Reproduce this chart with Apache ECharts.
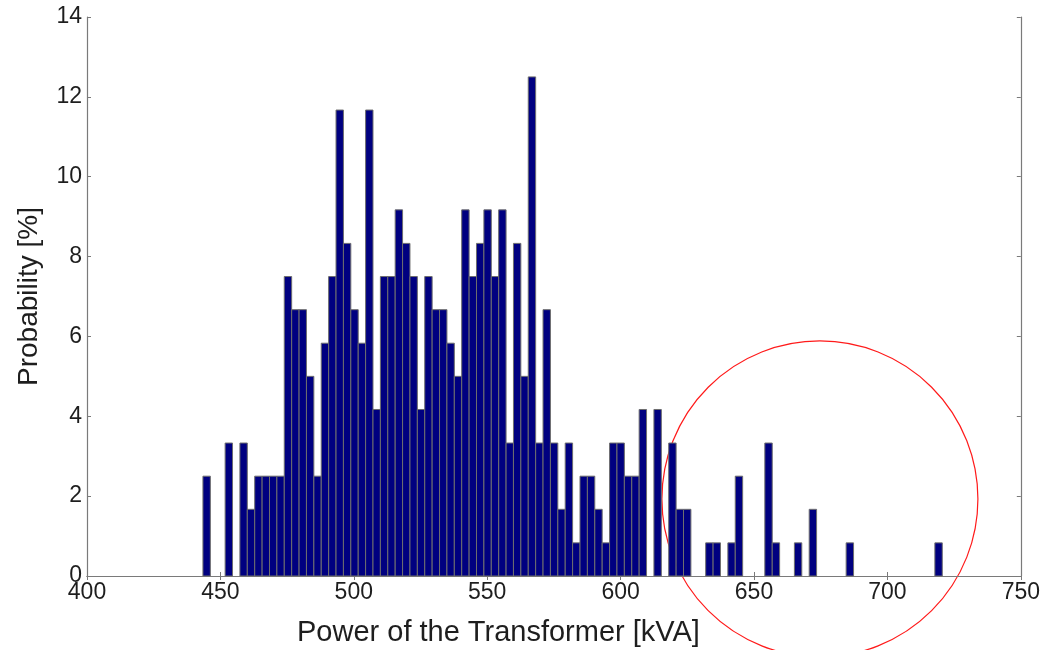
<!DOCTYPE html>
<html>
<head>
<meta charset="utf-8">
<script src="https://cdn.jsdelivr.net/npm/echarts@6/dist/echarts.min.js"></script>
<style>
  html, body { margin: 0; padding: 0; background: #fff; }
  #main { width: 1043px; height: 650px; }
</style>
</head>
<body>
<div id="main"></div>
<script type="text/javascript">
// histogram: 100 equal bins starting at binStart (kVA)
var binStart = 443.46;
var binWidth = 2.771;
// probability of each bin [%]
var probability = [
  2.5, 0, 0, 3.33, 0, 3.33, 1.67, 2.5, 2.5, 2.5,
  2.5, 7.5, 6.67, 6.67, 5, 2.5, 5.83, 7.5, 11.67, 8.33,
  6.67, 5.83, 11.67, 4.17, 7.5, 7.5, 9.17, 8.33, 7.5, 4.17,
  7.5, 6.67, 6.67, 5.83, 5, 9.17, 7.5, 8.33, 9.17, 7.5,
  9.17, 3.33, 8.33, 5, 12.5, 3.33, 6.67, 3.33, 1.67, 3.33,
  0.83, 2.5, 2.5, 1.67, 0.83, 3.33, 3.33, 2.5, 2.5, 4.17,
  0, 4.17, 0, 3.33, 1.67, 1.67, 0, 0, 0.83, 0.83,
  0, 0.83, 2.5, 0, 0, 0, 3.33, 0.83, 0, 0,
  0.83, 0, 1.67, 0, 0, 0, 0, 0.83, 0, 0,
  0, 0, 0, 0, 0, 0, 0, 0, 0, 0.83
];
var xTicks = [400, 750, 50];
var yTicks = [0, 14, 2];
// highlighted region (data coords) and its radius in px
var circleCenter = [674.7, 1.93];
var circleRadius = 158;

var bins = [];
for (var i = 0; i < probability.length; i++) {
  bins.push([binStart + i * binWidth, binStart + (i + 1) * binWidth, probability[i]]);
}

var axisColor = '#7a7a7a';
var textColor = '#1e1e1e';
var font = 'Liberation Sans, Arial, sans-serif';

var chart = echarts.init(document.getElementById('main'));
var option = {
  backgroundColor: '#fff',
  animation: false,
  title: {
    text: 'Power of the Transformer [kVA]',
    left: 292,
    top: 613,
    textStyle: { fontFamily: font, fontSize: 29, fontWeight: 'normal', color: textColor }
  },
  grid: { left: 87, right: 22, top: 17, bottom: 74, containLabel: false },
  xAxis: [
    {
      type: 'value', min: xTicks[0], max: xTicks[1], interval: xTicks[2],
      axisLine: { lineStyle: { color: axisColor, width: 1.2 } },
      axisTick: { inside: true, length: 4, lineStyle: { color: axisColor } },
      axisLabel: { fontFamily: font, fontSize: 23, color: textColor, margin: 5 },
      splitLine: { show: false }
    },
    {
      type: 'value', position: 'top', min: xTicks[0], max: xTicks[1], interval: xTicks[2],
      axisLine: { lineStyle: { color: axisColor, width: 1.2 } },
      axisTick: { inside: true, length: 4, lineStyle: { color: axisColor } },
      axisLabel: { show: false },
      splitLine: { show: false }
    }
  ],
  yAxis: [
    {
      type: 'value', min: yTicks[0], max: yTicks[1], interval: yTicks[2],
      name: 'Probability [%]', nameLocation: 'middle', nameGap: 44,
      nameTextStyle: { fontFamily: font, fontSize: 28, color: textColor },
      axisLine: { show: true, lineStyle: { color: axisColor, width: 1.2 } },
      axisTick: { show: true, inside: true, length: 4, lineStyle: { color: axisColor } },
      axisLabel: { fontFamily: font, fontSize: 23, color: textColor, margin: 5 },
      splitLine: { show: false }
    },
    {
      type: 'value', position: 'right', min: yTicks[0], max: yTicks[1], interval: yTicks[2],
      axisLine: { show: true, lineStyle: { color: axisColor, width: 1.2 } },
      axisTick: { show: true, inside: true, length: 4, lineStyle: { color: axisColor } },
      axisLabel: { show: false },
      splitLine: { show: false }
    }
  ],
  series: [
    {
      type: 'custom',
      xAxisIndex: 0,
      yAxisIndex: 0,
      encode: { x: [0, 1], y: 2 },
      data: bins,
      renderItem: function (params, api) {
        var y = api.value(2);
        if (!y) return;
        var p0 = api.coord([api.value(0), y]);
        var p1 = api.coord([api.value(1), 0]);
        return {
          type: 'rect',
          shape: { x: p0[0], y: p0[1], width: p1[0] - p0[0], height: p1[1] - p0[1] },
          style: { fill: '#000080', stroke: '#6e6e6e', lineWidth: 1 }
        };
      }
    }
  ]
};
chart.setOption(option);

// red circle marking the upper tail
var c = chart.convertToPixel({ xAxisIndex: 0, yAxisIndex: 0 }, circleCenter);
chart.setOption({
  graphic: [{
    type: 'circle',
    shape: { cx: c[0], cy: c[1], r: circleRadius },
    style: { fill: 'none', stroke: '#ff1a1a', lineWidth: 1.2 },
    silent: true
  }]
});
</script>
</body>
</html>
